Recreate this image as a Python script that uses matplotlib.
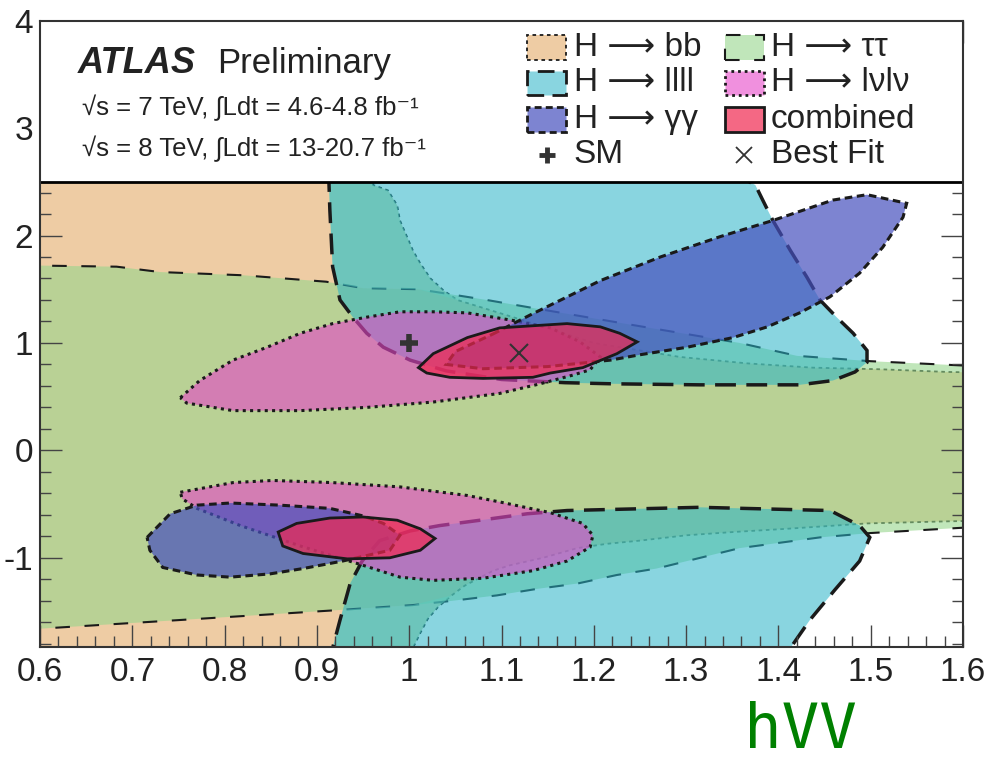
import matplotlib
matplotlib.use('Agg')
import matplotlib.pyplot as plt
from matplotlib.patches import Polygon, Rectangle
from matplotlib.ticker import MultipleLocator, FuncFormatter

plt.rcParams['font.family'] = ['Liberation Sans', 'DejaVu Sans']
plt.rcParams['axes.unicode_minus'] = False

# ---------------- contour data (kappa_V on x, kappa_F on y) ----------------
bb_x = [0.5, 0.955, 0.961, 0.977, 0.987, 0.990, 0.997, 1.004, 1.012, 1.023, 1.037, 1.052, 1.071,
        1.12, 1.2, 1.293, 1.366, 1.437, 1.51, 1.583, 1.65, 1.65, 1.586, 1.496, 1.409, 1.351,
        1.301, 1.25, 1.214, 1.182, 1.145, 1.109, 1.091, 1.06, 1.046, 1.031, 1.02, 1.012, 1.004,
        1.0, 0.5]
bb_y = [2.6, 2.6, 2.47, 2.42, 2.28, 2.14, 2.0, 1.86, 1.74, 1.60, 1.49, 1.40, 1.35,
        1.22, 1.0, 0.87, 0.81, 0.77, 0.755, 0.73, 0.72, -0.65, -0.66, -0.68, -0.73, -0.76,
        -0.79, -0.84, -0.87, -0.91, -1.0, -1.07, -1.12, -1.26, -1.35, -1.46, -1.57, -1.70, -1.84,
        -2.0, -2.0]

tt_x = [0.55, 0.6, 0.683, 0.73, 0.82, 0.91, 0.95, 1.01, 1.084, 1.131, 1.24, 1.358, 1.42, 1.5, 1.6, 1.65,
        1.65, 1.6, 1.499, 1.445, 1.358, 1.268, 1.225, 1.182, 1.138, 1.095, 1.047, 1.004, 0.917,
        0.75, 0.6, 0.55]
tt_y = [1.74, 1.72, 1.71, 1.66, 1.63, 1.57, 1.51, 1.50, 1.40, 1.33, 1.17, 1.0, 0.88, 0.83, 0.79, 0.78,
        -0.71, -0.72, -0.77, -0.81, -0.91, -1.10, -1.16, -1.24, -1.29, -1.35, -1.40, -1.44, -1.49,
        -1.58, -1.66, -1.69]

llll_up_x = [0.913, 0.913, 0.914, 0.917, 0.925, 0.939, 0.954, 0.972, 1.001, 1.04, 1.10, 1.169, 1.218,
             1.315, 1.423, 1.459, 1.483, 1.496, 1.496, 1.481, 1.463, 1.445, 1.431, 1.413, 1.394,
             1.383, 1.375, 1.364, 1.364]
llll_up_y = [2.6, 2.50, 2.24, 1.71, 1.40, 1.24, 1.09, 0.96, 0.84, 0.74, 0.66, 0.63, 0.62,
             0.61, 0.61, 0.65, 0.73, 0.82, 0.93, 1.09, 1.24, 1.40, 1.61, 1.86, 2.14,
             2.33, 2.47, 2.52, 2.6]
llll_lo_x = [0.915, 0.917, 0.925, 0.936, 0.949, 0.968, 1.001, 1.033, 1.077, 1.128, 1.171, 1.315, 1.456,
             1.488, 1.499, 1.488, 1.461, 1.434, 1.413, 1.40]
llll_lo_y = [-2.0, -1.84, -1.58, -1.24, -1.03, -0.84, -0.75, -0.70, -0.65, -0.59, -0.56, -0.53, -0.56,
             -0.70, -0.81, -1.03, -1.30, -1.58, -1.84, -2.0]

lvlv_up_x = [0.752, 0.773, 0.809, 0.846, 0.882, 0.917, 0.954, 0.990, 1.026, 1.063, 1.112, 1.153, 1.185,
             1.207, 1.196, 1.177, 1.142, 1.098, 1.026, 0.954, 0.882, 0.809, 0.759]
lvlv_up_y = [0.49, 0.65, 0.84, 0.96, 1.09, 1.18, 1.24, 1.29, 1.29, 1.28, 1.21, 1.14, 1.01,
             0.87, 0.75, 0.70, 0.62, 0.53, 0.45, 0.40, 0.37, 0.37, 0.44]
lvlv_lo_x = [0.752, 0.809, 0.852, 0.917, 0.990, 1.063, 1.098, 1.153, 1.188, 1.199, 1.196, 1.171, 1.134,
             1.080, 1.026, 0.990, 0.950, 0.882, 0.817, 0.770, 0.754]
lvlv_lo_y = [-0.39, -0.30, -0.28, -0.30, -0.34, -0.42, -0.48, -0.58, -0.68, -0.79, -0.90, -1.03, -1.12,
             -1.19, -1.21, -1.18, -1.07, -0.89, -0.70, -0.54, -0.45]

gg_up_x = [1.09, 1.131, 1.207, 1.272, 1.337, 1.394, 1.459, 1.496, 1.539, 1.535, 1.513, 1.488, 1.456,
           1.423, 1.388, 1.351, 1.301, 1.250, 1.218, 1.15, 1.08, 1.04, 1.05]
gg_up_y = [1.08, 1.26, 1.58, 1.80, 1.99, 2.14, 2.33, 2.38, 2.30, 2.17, 1.89, 1.65, 1.43,
           1.28, 1.15, 1.05, 0.96, 0.89, 0.84, 0.78, 0.76, 0.80, 0.92]
gg_lo_x = [0.716, 0.741, 0.770, 0.806, 0.860, 0.914, 0.950, 0.972, 0.990, 0.979, 0.928, 0.885, 0.849,
           0.806, 0.770, 0.733, 0.719]
gg_lo_y = [-0.81, -0.59, -0.51, -0.49, -0.51, -0.54, -0.61, -0.68, -0.79, -0.93, -1.03, -1.10, -1.15,
           -1.18, -1.16, -1.09, -0.93]

comb_up_x = [1.010, 1.026, 1.063, 1.098, 1.134, 1.171, 1.207, 1.228, 1.247, 1.225, 1.188, 1.153, 1.134,
             1.080, 1.044, 1.019]
comb_up_y = [0.77, 0.90, 1.05, 1.14, 1.16, 1.18, 1.15, 1.09, 1.01, 0.90, 0.77, 0.72, 0.68,
             0.67, 0.68, 0.72]
comb_lo_x = [0.858, 0.878, 0.914, 0.950, 0.987, 1.012, 1.028, 1.012, 0.979, 0.933, 0.885, 0.863]
comb_lo_y = [-0.76, -0.68, -0.63, -0.62, -0.65, -0.73, -0.82, -0.93, -1.00, -1.01, -0.96, -0.89]

sm_point = (1.0, 1.0)
best_fit = (1.119, 0.91)

channel_labels = ['H \u27f6 bb', 'H \u27f6 \u03c4\u03c4', 'H \u27f6 llll', 'H \u27f6 l\u03bdl\u03bd',
                  'H \u27f6 \u03b3\u03b3', 'combined']

xticks = [0.6, 0.7, 0.8, 0.9, 1.0, 1.1, 1.2, 1.3, 1.4, 1.5, 1.6]
yticks = [-1, 0, 1, 2, 3, 4]

# ---------------- styles ----------------
styles = {
    'bb':   dict(fc=(238/255, 204/255, 164/255, 1.0), ls=(0, (2, 2)), lw=1.3, z=1.0),
    'tt':   dict(fc=(150/255, 214/255, 140/255, 0.6), ls=(0, (7, 7)), lw=1.5, z=1.1),
    'llll': dict(fc=(40/255, 180/255, 200/255, 0.55), ls=(0, (6, 3)), lw=2.5, z=1.2),
    'lvlv': dict(fc=(230/255, 70/255, 200/255, 0.6), ls=(0, (1, 1.4)), lw=2.2, z=1.3),
    'gg':   dict(fc=(70/255, 80/255, 190/255, 0.7), ls=(0, (2.5, 1.5)), lw=2.2, z=1.4),
    'comb': dict(fc=(240/255, 40/255, 80/255, 0.7), ls='-', lw=2.0, z=1.5),
}
teal_fix = (150/255, 235/255, 180/255, 0.5)

fig = plt.figure(figsize=(9.93, 7.68), dpi=100)
ax = fig.add_axes([0.0403, 0.1576, 0.9295, 0.8155])
ax.set_xlim(0.6, 1.6)
ax.set_ylim(-1.83, 4.0)


def region(xs, ys, key):
    s = styles[key]
    p = Polygon(list(zip(xs, ys)), closed=True, facecolor=s['fc'], edgecolor='#1a1a1a',
                linewidth=s['lw'], linestyle=s['ls'], zorder=s['z'])
    ax.add_patch(p)
    return p


region(bb_x, bb_y, 'bb')
region(tt_x, tt_y, 'tt')
p_l_up = region(llll_up_x, llll_up_y, 'llll')
p_l_lo = region(llll_lo_x, llll_lo_y, 'llll')

# tint where llll lies over the bb-only (tan) area so it reads as teal, as in the original
n_up = 16
tt_up = list(zip(tt_x[:n_up], tt_y[:n_up]))
tt_lo = list(zip(tt_x[n_up:], tt_y[n_up:]))
bb_pts = list(zip(bb_x, bb_y))
bb_curve_up = [p for p in bb_pts[1:12]]
bb_curve_lo = [p for p in bb_pts if p[1] <= -1.35 and p[0] > 0.99]
ov_up = [p for p in tt_up if p[0] <= 1.01] + bb_curve_up[::-1] + [(0.5, 2.6)]
ov_lo = bb_curve_lo + [(0.5, -2.0)] + [p for p in tt_lo if p[0] <= 1.004][::-1]
for pts, clip in ((ov_up, p_l_up), (ov_lo, p_l_lo)):
    ov = Polygon(pts, closed=True, facecolor=teal_fix, edgecolor='none', zorder=1.19)
    ax.add_patch(ov)
    ov.set_clip_path(clip)

region(lvlv_up_x, lvlv_up_y, 'lvlv')
region(lvlv_lo_x, lvlv_lo_y, 'lvlv')
region(gg_up_x, gg_up_y, 'gg')
region(gg_lo_x, gg_lo_y, 'gg')
region(comb_up_x, comb_up_y, 'comb')
region(comb_lo_x, comb_lo_y, 'comb')

ax.plot([sm_point[0]], [sm_point[1]], marker='+', ms=13, mew=4, color='#333333', zorder=1.8)
ax.plot([best_fit[0]], [best_fit[1]], marker='x', ms=13, mew=1.5, color='#333333', zorder=1.8)

# white legend area above 2.5
ax.add_patch(Rectangle((0.5, 2.5), 1.2, 2.0, facecolor='white', edgecolor='none', zorder=2))
ax.axhline(2.5, color='black', lw=2, zorder=2.1)

# ---------------- legend ----------------
leg_keys = ['bb', 'tt', 'llll', 'lvlv', 'gg', 'comb']
col_x = [1.128, 1.342]
row_y = [3.75, 3.42, 3.08]
pw, ph = 0.042, 0.23
for i, (key, lab) in enumerate(zip(leg_keys, channel_labels)):
    r, c = divmod(i, 2)
    s = styles[key]
    ax.add_patch(Rectangle((col_x[c], row_y[r] - ph / 2), pw, ph, facecolor=s['fc'],
                           edgecolor='#1a1a1a', lw=min(s['lw'], 2), ls=s['ls'], zorder=3))
    ax.text(col_x[c] + pw + 0.008, row_y[r], lab, fontsize=24, va='center', ha='left',
            color='#222222', zorder=4)
ax.plot([col_x[0] + pw / 2], [2.75], marker='+', ms=11, mew=3.5, color='#333333', zorder=4)
ax.text(col_x[0] + pw + 0.008, 2.75, 'SM', fontsize=24, va='center', ha='left', color='#222222', zorder=4)
ax.plot([col_x[1] + pw / 2], [2.75], marker='x', ms=11, mew=1.3, color='#333333', zorder=4)
ax.text(col_x[1] + pw + 0.008, 2.75, 'Best Fit', fontsize=24, va='center', ha='left', color='#222222', zorder=4)

# ATLAS label
ax.text(0.641, 3.60, 'ATLAS', fontsize=26, fontweight='bold', fontstyle='italic', va='center',
        ha='left', color='#222222', zorder=4)
ax.text(0.792, 3.60, 'Preliminary', fontsize=25, va='center', ha='left', color='#222222', zorder=4)
ax.text(0.645, 3.19, '\u221as = 7 TeV, \u222bLdt = 4.6-4.8 fb\u207b\u00b9', fontsize=18.5, va='center',
        ha='left', color='#222222', zorder=4)
ax.text(0.645, 2.81, '\u221as = 8 TeV, \u222bLdt = 13-20.7 fb\u207b\u00b9', fontsize=18.5, va='center',
        ha='left', color='#222222', zorder=4)

# ---------------- axes ----------------
ax.set_xticks(xticks)
ax.set_yticks(yticks)
ax.xaxis.set_minor_locator(MultipleLocator(0.02))
ax.yaxis.set_minor_locator(MultipleLocator(0.2))
fmt = FuncFormatter(lambda v, p: ('%.1f' % v).rstrip('0').rstrip('.'))
ax.xaxis.set_major_formatter(fmt)
ax.yaxis.set_major_formatter(fmt)
ax.tick_params(which='both', direction='in', top=True, right=True, labelsize=24,
               labelcolor='#222222', color='#444444')
ax.tick_params(which='major', length=16, width=1.0)
ax.tick_params(which='minor', length=8, width=1.0)
ax.tick_params(axis='x', pad=7)
ax.tick_params(axis='y', pad=5)
for sp in ax.spines.values():
    sp.set_linewidth(1.5)
    sp.set_color('#333333')
    sp.set_zorder(5)

fig.text(0.806, 0.048, 'hVV', color='#008000', fontsize=45, family='DejaVu Sans Mono',
         ha='center', va='center')

fig.savefig('out.png', dpi=100, facecolor='white')
